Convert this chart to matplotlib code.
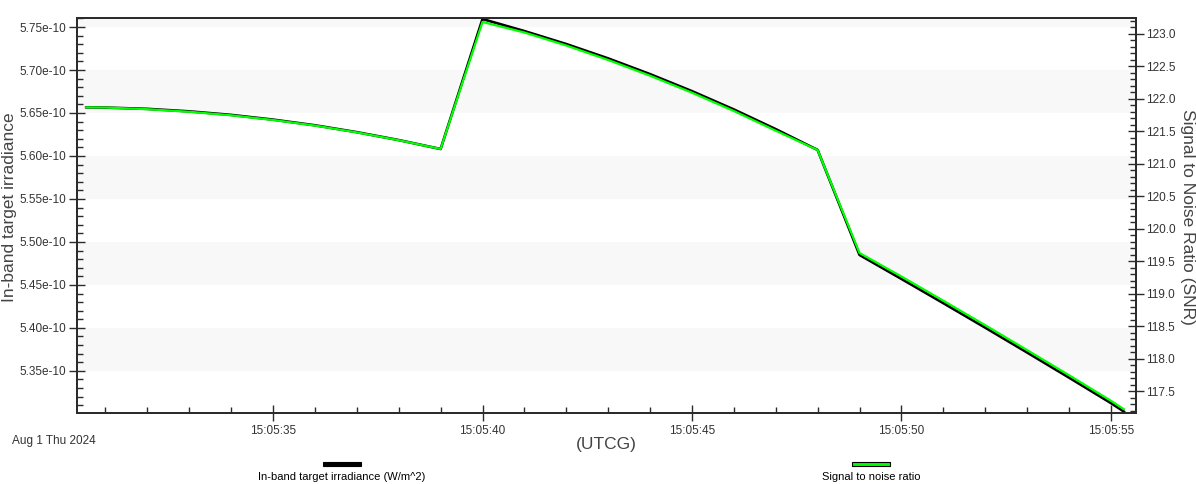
import datetime as dt
import matplotlib
matplotlib.use("Agg")
import matplotlib.pyplot as plt
import matplotlib.dates as mdates
from matplotlib.ticker import MultipleLocator, FuncFormatter
from matplotlib.patches import Rectangle

plt.rcParams['font.family'] = ['Liberation Sans', 'DejaVu Sans']

# seconds after 15:05:00 on Aug 1 2024
seconds = [30.54, 31, 32, 33, 34, 35, 36, 37, 38, 39, 40, 41, 42, 43, 44, 45,
           46, 47, 48, 49, 50, 51, 52, 53, 54, 55, 55.31]

# in-band target irradiance (x1e-10 W/m^2)
irradiance = [5.6566, 5.6563, 5.6548, 5.6519, 5.6478, 5.6423, 5.6357, 5.6277,
              5.6185, 5.6081, 5.7593, 5.7453, 5.7302, 5.7135, 5.6952, 5.6754,
              5.6541, 5.6312, 5.6070, 5.4849, 5.4570, 5.4288, 5.4003, 5.3714,
              5.3422, 5.3126, 5.3027]

# signal to noise ratio
snr = [121.872, 121.868, 121.843, 121.803, 121.749, 121.677, 121.591, 121.486,
       121.366, 121.231, 123.185, 123.023, 122.823, 122.600, 122.358, 122.097,
       121.815, 121.512, 121.215, 119.631, 119.269, 118.897, 118.520, 118.137,
       117.751, 117.358, 117.228]

base = dt.datetime(2024, 8, 1, 15, 5, 0)
times = [base + dt.timedelta(seconds=s) for s in seconds]
irr = [v * 1e-10 for v in irradiance]

band_edges = [(5.75e-10, 5.80e-10), (5.65e-10, 5.70e-10), (5.55e-10, 5.60e-10),
              (5.45e-10, 5.50e-10), (5.35e-10, 5.40e-10)]

y_lo, y_hi = 5.301e-10, 5.7605e-10
snr_lo, snr_hi = 117.169, 123.246

spine_col = '#2b2b2b'
text_col = '#333333'


def irr_fmt(v, pos):
    # only label ticks that fall inside the axis range
    if v < y_lo or v > y_hi:
        return ''
    return '{:.2e}'.format(v)


def snr_fmt(v, pos):
    if v < snr_lo or v > snr_hi:
        return ''
    return '{:.1f}'.format(v)


fig = plt.figure(figsize=(11.96, 4.84), dpi=100)
ax = fig.add_axes([77 / 1196, 1 - 413 / 484, (1136 - 77) / 1196, (413 - 18) / 484])
ax2 = ax.twinx()

for lo, hi in band_edges:
    ax.axhspan(lo, hi, color='#f8f8f8', lw=0, zorder=0)

ax.plot(times, irr, color='black', lw=1.9, zorder=3)
ax2.plot(times, snr, color='#00ff00', lw=1.6, zorder=4)

ax.set_xlim(base + dt.timedelta(seconds=30.32), base + dt.timedelta(seconds=55.6))
ax.set_ylim(y_lo, y_hi)
ax2.set_ylim(snr_lo, snr_hi)

ax.xaxis.set_major_locator(mdates.SecondLocator(bysecond=range(0, 60, 5)))
ax.xaxis.set_minor_locator(mdates.SecondLocator())
ax.xaxis.set_major_formatter(mdates.DateFormatter('%H:%M:%S'))

ax.yaxis.set_major_locator(MultipleLocator(0.05e-10))
ax.yaxis.set_minor_locator(MultipleLocator(0.01e-10))
ax.yaxis.set_major_formatter(FuncFormatter(irr_fmt))
ax.yaxis.get_offset_text().set_visible(False)
ax.xaxis.get_offset_text().set_visible(False)

ax2.yaxis.set_major_locator(MultipleLocator(0.5))
ax2.yaxis.set_minor_locator(MultipleLocator(0.1))
ax2.yaxis.set_major_formatter(FuncFormatter(snr_fmt))
ax2.yaxis.get_offset_text().set_visible(False)

for a in (ax, ax2):
    for sp in a.spines.values():
        sp.set_color(spine_col)
        sp.set_linewidth(1.3)
    a.tick_params(which='major', direction='inout', length=11, width=1,
                  color=spine_col, labelsize=8.5, labelcolor=text_col, pad=2)
    a.tick_params(which='minor', direction='in', length=4.5, width=1, color=spine_col)
ax.tick_params(axis='x', pad=3)

fig.text(10 / 1196, 1 - 207 / 484, 'In-band target irradiance', fontsize=12.5,
         color='#444444', rotation=90, ha='center', va='center')
fig.text(1187 / 1196, 1 - 217 / 484, 'Signal to Noise Ratio (SNR)', fontsize=12.5,
         color='#444444', rotation=-90, ha='center', va='center')

fig.text(12 / 1196, 1 - 441 / 484, 'Aug 1 Thu 2024', fontsize=8.5, color=text_col,
         ha='left', va='center')
fig.text(606 / 1196, 1 - 445 / 484, '(UTCG)', fontsize=12.5, color='#444444',
         ha='center', va='center')

# legend below the chart
fig.add_artist(Rectangle((323 / 1196, 1 - 466 / 484), 38 / 1196, 4 / 484,
                         transform=fig.transFigure, facecolor='black',
                         edgecolor='black', lw=0.8))
fig.add_artist(Rectangle((852 / 1196, 1 - 466 / 484), 38 / 1196, 4 / 484,
                         transform=fig.transFigure, facecolor='#00ff00',
                         edgecolor='black', lw=0.8))
fig.text(342 / 1196, 1 - 477 / 484, 'In-band target irradiance (W/m^2)', fontsize=8,
         color='black', ha='center', va='center')
fig.text(871 / 1196, 1 - 477 / 484, 'Signal to noise ratio', fontsize=8,
         color='black', ha='center', va='center')

fig.savefig('out.png', dpi=100)
